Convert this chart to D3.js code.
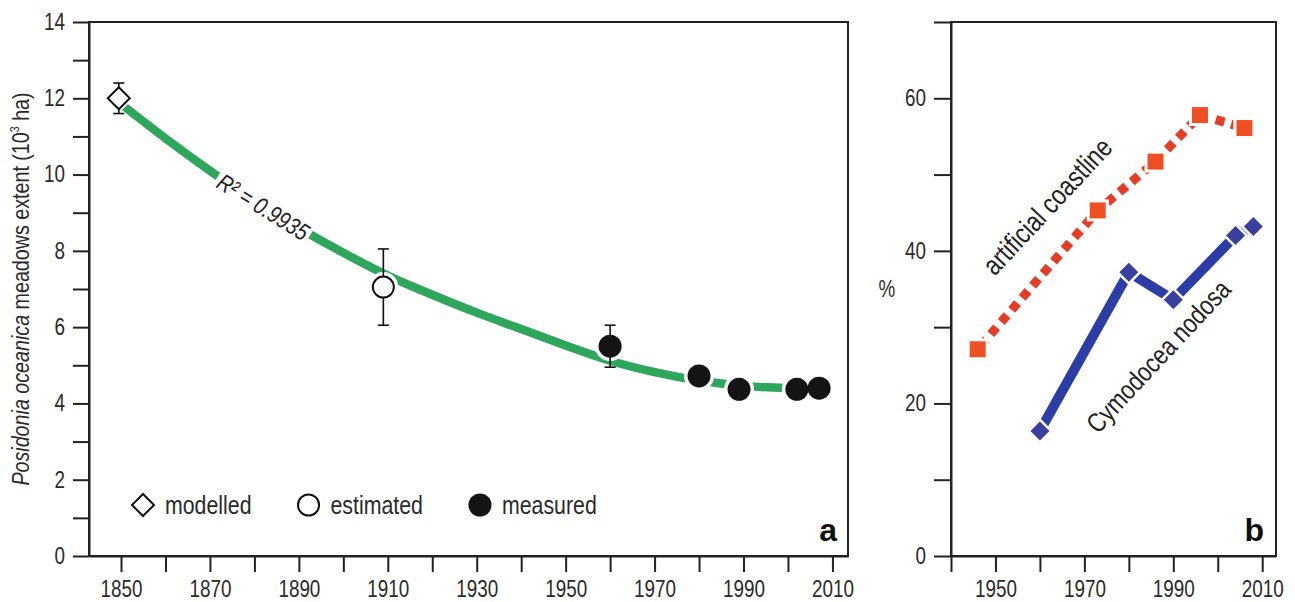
<!DOCTYPE html>
<html lang="en">
<head>
<meta charset="UTF-8">
<script src="https://cdnjs.cloudflare.com/ajax/libs/d3/7.9.0/d3.min.js"></script>
<title>Posidonia oceanica meadows and artificial coastline</title>
<style>
    body {
        margin: 0;
        background: white;
    }

    svg {
        display: block;
        font-family: "Liberation Sans", Arial, sans-serif;
    }

    .axis path,
    .axis line {
        stroke: #222;
        stroke-width: 2;
    }

    .axis text {
        font-family: "Liberation Sans", Arial, sans-serif;
        font-size: 23px;
        fill: #2a2a2a;
    }
</style>
</head>
<body>
<div id="chart"></div>
<script>
    // ---- panel a: Posidonia oceanica meadows extent (10^3 ha) ----
    // fitted curve
    const fitYears = [1850, 1860, 1870, 1880, 1890, 1900, 1910, 1920, 1930, 1940, 1950, 1960, 1970, 1980, 1990, 2000, 2007];
    const fitValues = [11.85, 10.95, 10.1, 9.3, 8.6, 7.95, 7.35, 6.85, 6.38, 5.95, 5.52, 5.12, 4.82, 4.6, 4.46, 4.4, 4.38];
    const fitLabel = "R² = 0.9935";

    // observations
    const obsYears = [1849.5, 1909, 1960, 1980, 1989, 2002, 2007];
    const obsValues = [12, 7.05, 5.5, 4.72, 4.37, 4.37, 4.4];
    const obsErrors = [0.4, 1.0, 0.55, 0, 0, 0, 0];
    const obsTypes = ["modelled", "estimated", "measured", "measured", "measured", "measured", "measured"];
    const legendLabels = ["modelled", "estimated", "measured"];

    const yTicksA = d3.range(0, 15, 1);
    const yLabelsA = [0, 2, 4, 6, 8, 10, 12, 14];
    const xTicksA = d3.range(1850, 2011, 10);
    const xLabelsA = [1850, 1870, 1890, 1910, 1930, 1950, 1970, 1990, 2010];

    // ---- panel b: % ----
    const coastYears = [1946, 1973, 1986, 1996, 2006];
    const coastValues = [27.1, 45.3, 51.7, 57.8, 56.1];
    const coastLabel = "artificial coastline";
    const cymoYears = [1960, 1980, 1990, 2004, 2008];
    const cymoValues = [16.4, 37.2, 33.6, 42.0, 43.2];
    const cymoLabel = "Cymodocea nodosa";

    const yTicksB = d3.range(0, 71, 10);
    const yLabelsB = [0, 20, 40, 60];
    const xTicksB = d3.range(1940, 2011, 10);
    const xLabelsB = [1950, 1970, 1990, 2010];

    const width = 1295;
    const height = 602;
    const panelA = { left: 89, right: 848, top: 22, bottom: 556 };
    const panelB = { left: 951, right: 1276, top: 22, bottom: 556 };

    const green = "#2ea65b";
    const red = "#e53d25";
    const orange = "#ee5024";
    const blue = "#2c3da6";
    const diamondBlue = "#3a3f9f";

    // the figure uses a narrow sans; squeeze Liberation Sans to match
    const squeeze = (sel, k = 0.82) => sel.each(function () {
        const len = this.getComputedTextLength();
        if (len > 0) d3.select(this).attr("textLength", len * k).attr("lengthAdjust", "spacingAndGlyphs");
    });

    const svg = d3.select("#chart").append("svg")
        .attr("width", width)
        .attr("height", height);

    svg.append("rect").attr("width", width).attr("height", height).attr("fill", "white");

    // ================= panel a =================
    const xA = d3.scaleLinear().domain([1842.8, 2013.5]).range([panelA.left, panelA.right]);
    const yA = d3.scaleLinear().domain([0, 14]).range([panelA.bottom, panelA.top]);

    svg.append("rect")
        .attr("x", panelA.left).attr("y", panelA.top)
        .attr("width", panelA.right - panelA.left)
        .attr("height", panelA.bottom - panelA.top)
        .attr("fill", "none").attr("stroke", "#222").attr("stroke-width", 2);

    svg.append("g")
        .attr("class", "axis")
        .attr("transform", `translate(${panelA.left},0)`)
        .call(d3.axisLeft(yA).tickValues(yTicksA).tickSize(16).tickSizeOuter(0).tickPadding(8)
            .tickFormat(d => yLabelsA.includes(d) ? d : ""))
        .selectAll("text").call(squeeze);

    svg.append("g")
        .attr("class", "axis")
        .attr("transform", `translate(0,${panelA.bottom})`)
        .call(d3.axisBottom(xA).tickValues(xTicksA).tickSize(16).tickSizeOuter(0).tickPadding(9)
            .tickFormat(d => xLabelsA.includes(d) ? d : ""))
        .selectAll("text").call(squeeze);

    // y title
    const yTitle = svg.append("text")
        .attr("transform", `translate(29,${(panelA.top + panelA.bottom) / 2}) rotate(-90)`)
        .attr("text-anchor", "middle")
        .attr("font-size", 24)
        .attr("fill", "#2a2a2a");
    yTitle.append("tspan").attr("font-style", "italic").text("Posidonia oceanica");
    yTitle.append("tspan").text(" meadows extent (10");
    yTitle.append("tspan").attr("font-size", 13).attr("dy", -10).text("3");
    yTitle.append("tspan").attr("dy", 10).text(" ha)");
    squeeze(yTitle);

    // fitted curve
    const fitData = fitYears.map((y, i) => [y, fitValues[i]]);
    const fitPath = svg.append("path")
        .datum(fitData)
        .attr("d", d3.line().x(d => xA(d[0])).y(d => yA(d[1])).curve(d3.curveMonotoneX))
        .attr("fill", "none")
        .attr("stroke", green)
        .attr("stroke-width", 8.5);

    // R² label on the curve, with a white gap behind it
    const pathNode = fitPath.node();
    const total = pathNode.getTotalLength();
    const pointAtX = (px) => {
        let lo = 0, hi = total;
        for (let k = 0; k < 40; k++) {
            const mid = (lo + hi) / 2;
            if (pathNode.getPointAtLength(mid).x < px) lo = mid; else hi = mid;
        }
        return pathNode.getPointAtLength(lo);
    };
    const lp = pointAtX(xA(1882));
    const lp0 = pointAtX(xA(1876));
    const lp1 = pointAtX(xA(1888));
    const angle = Math.atan2(lp1.y - lp0.y, lp1.x - lp0.x) * 180 / Math.PI;
    const fitG = svg.append("g").attr("transform", `translate(${lp.x},${lp.y}) rotate(${angle})`);
    const gapRect = fitG.append("rect").attr("fill", "white");
    const fitText = fitG.append("text")
        .attr("text-anchor", "middle")
        .attr("dy", "0.36em")
        .attr("font-size", 24)
        .attr("font-style", "italic")
        .attr("fill", "#222")
        .text(fitLabel)
        .call(squeeze);
    const tw = +fitText.attr("textLength");
    gapRect.attr("x", -tw / 2 - 3).attr("y", -16).attr("width", tw + 6).attr("height", 32);

    const obs = obsYears.map((y, i) => ({ year: y, value: obsValues[i], err: obsErrors[i], type: obsTypes[i] }));
    const diamondA = d3.symbol(d3.symbolSquare, 2 * 11 * 11);
    const diamondHalo = d3.symbol(d3.symbolSquare, 2 * 15 * 15);

    // white halos
    svg.append("g").selectAll("path")
        .data(obs)
        .join("path")
        .attr("transform", d => `translate(${xA(d.year)},${yA(d.value)})` + (d.type === "modelled" ? " rotate(45)" : ""))
        .attr("d", d => d.type === "modelled" ? diamondHalo() : d3.symbol(d3.symbolCircle, Math.PI * 15 * 15)())
        .attr("fill", "white");

    // error bars
    const errG = svg.append("g").attr("stroke", "#111").attr("stroke-width", 1.6);
    obs.filter(d => d.err > 0).forEach(d => {
        const x = xA(d.year);
        errG.append("line").attr("x1", x).attr("x2", x).attr("y1", yA(d.value + d.err)).attr("y2", yA(d.value - d.err));
        [d.value + d.err, d.value - d.err].forEach(v => {
            errG.append("line").attr("x1", x - 5.5).attr("x2", x + 5.5).attr("y1", yA(v)).attr("y2", yA(v));
        });
    });

    const drawMarker = (g, type, x, y) => {
        if (type === "modelled") {
            g.append("path").attr("transform", `translate(${x},${y}) rotate(45)`).attr("d", diamondA())
                .attr("fill", "white").attr("stroke", "#111").attr("stroke-width", 2);
        } else if (type === "estimated") {
            g.append("circle").attr("cx", x).attr("cy", y).attr("r", 10.5)
                .attr("fill", "white").attr("stroke", "#111").attr("stroke-width", 2);
        } else {
            g.append("circle").attr("cx", x).attr("cy", y).attr("r", 11.5).attr("fill", "#141414");
        }
    };

    const markG = svg.append("g");
    obs.forEach(d => drawMarker(markG, d.type, xA(d.year), yA(d.value)));

    // legend
    const legG = svg.append("g");
    let lx = 143;
    const ly = 505;
    legendLabels.forEach(lab => {
        drawMarker(legG, lab, lx, ly);
        const t = legG.append("text").attr("x", lx + 22).attr("y", ly + 9)
            .attr("font-size", 26).attr("fill", "#2a2a2a").text(lab)
            .call(squeeze);
        lx = lx + 22 + (+t.attr("textLength")) + 57;
    });

    svg.append("text")
        .attr("x", panelA.right - 11).attr("y", 541)
        .attr("text-anchor", "end")
        .attr("font-size", 32).attr("font-weight", "bold").attr("fill", "#111")
        .text("a");

    // ================= panel b =================
    const xB = d3.scaleLinear().domain([1940, 2013.1]).range([panelB.left, panelB.right]);
    const yB = d3.scaleLinear().domain([0, 70]).range([panelB.bottom, panelB.top]);

    svg.append("rect")
        .attr("x", panelB.left).attr("y", panelB.top)
        .attr("width", panelB.right - panelB.left)
        .attr("height", panelB.bottom - panelB.top)
        .attr("fill", "none").attr("stroke", "#222").attr("stroke-width", 2);

    svg.append("g")
        .attr("class", "axis")
        .attr("transform", `translate(${panelB.left},0)`)
        .call(d3.axisLeft(yB).tickValues(yTicksB).tickSize(17).tickSizeOuter(0).tickPadding(8)
            .tickFormat(d => yLabelsB.includes(d) ? d : ""))
        .selectAll("text").call(squeeze);

    svg.append("g")
        .attr("class", "axis")
        .attr("transform", `translate(0,${panelB.bottom})`)
        .call(d3.axisBottom(xB).tickValues(xTicksB).tickSize(16).tickSizeOuter(0).tickPadding(9)
            .tickFormat(d => xLabelsB.includes(d) ? d : ""))
        .selectAll("text").call(squeeze);

    svg.append("text")
        .attr("x", 887).attr("y", (panelB.top + panelB.bottom) / 2 + 8)
        .attr("text-anchor", "middle")
        .attr("font-size", 23).attr("fill", "#2a2a2a")
        .text("%")
        .call(squeeze);

    const coast = coastYears.map((y, i) => [y, coastValues[i]]);
    const cymo = cymoYears.map((y, i) => [y, cymoValues[i]]);
    const lineB = d3.line().x(d => xB(d[0])).y(d => yB(d[1]));

    svg.append("path")
        .datum(coast)
        .attr("d", lineB)
        .attr("fill", "none")
        .attr("stroke", red)
        .attr("stroke-width", 9)
        .attr("stroke-dasharray", "9 7")
        .attr("stroke-dashoffset", -4);

    svg.append("path")
        .datum(cymo)
        .attr("d", lineB)
        .attr("fill", "none")
        .attr("stroke", blue)
        .attr("stroke-width", 10);

    // halos then markers
    const sq = 16;
    svg.append("g").selectAll("rect")
        .data(coast)
        .join("rect")
        .attr("x", d => xB(d[0]) - sq / 2 - 3).attr("y", d => yB(d[1]) - sq / 2 - 3)
        .attr("width", sq + 6).attr("height", sq + 6)
        .attr("fill", "white");
    const diamondB = d3.symbol(d3.symbolSquare, 2 * 9.5 * 9.5);
    const diamondBHalo = d3.symbol(d3.symbolSquare, 2 * 13 * 13);
    svg.append("g").selectAll("path")
        .data(cymo)
        .join("path")
        .attr("transform", d => `translate(${xB(d[0])},${yB(d[1])}) rotate(45)`)
        .attr("d", diamondBHalo())
        .attr("fill", "white");

    svg.append("g").selectAll("rect")
        .data(coast)
        .join("rect")
        .attr("x", d => xB(d[0]) - sq / 2).attr("y", d => yB(d[1]) - sq / 2)
        .attr("width", sq).attr("height", sq)
        .attr("fill", orange);
    svg.append("g").selectAll("path")
        .data(cymo)
        .join("path")
        .attr("transform", d => `translate(${xB(d[0])},${yB(d[1])}) rotate(45)`)
        .attr("d", diamondB())
        .attr("fill", diamondBlue);

    // series labels
    svg.append("text")
        .attr("transform", "translate(1047,206) rotate(-47)")
        .attr("text-anchor", "middle").attr("dy", "0.36em")
        .attr("font-size", 28).attr("fill", "#222")
        .text(coastLabel)
        .call(squeeze);
    svg.append("text")
        .attr("transform", "translate(1158,356) rotate(-47)")
        .attr("text-anchor", "middle").attr("dy", "0.36em")
        .attr("font-size", 27).attr("fill", "#222")
        .text(cymoLabel)
        .call(squeeze);

    svg.append("text")
        .attr("x", panelB.right - 12).attr("y", 541)
        .attr("text-anchor", "end")
        .attr("font-size", 32).attr("font-weight", "bold").attr("fill", "#111")
        .text("b");
</script>
</body>
</html>
